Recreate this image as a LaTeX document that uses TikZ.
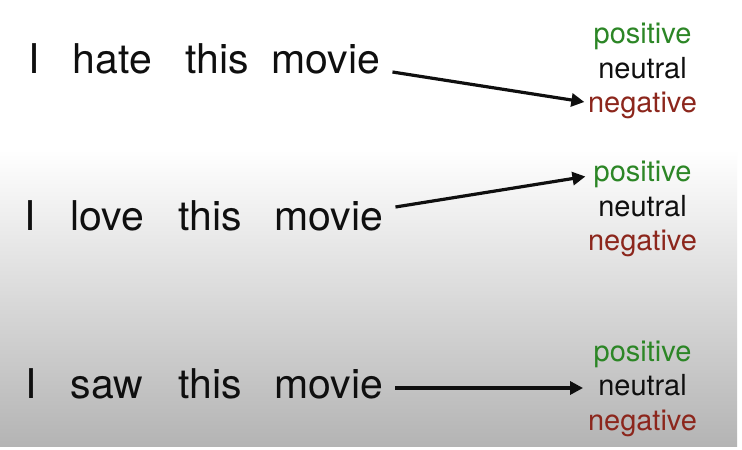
\documentclass[tikz,border=0pt]{standalone}
\usepackage{fontspec}
\setmainfont{TeX Gyre Heros}
\usetikzlibrary{arrows.meta}
\definecolor{posgreen}{RGB}{44,134,38}
\definecolor{negred}{RGB}{140,38,28}
\definecolor{bgbottom}{RGB}{180,180,180}
\definecolor{ink}{RGB}{15,15,15}
\tikzset{
  word/.style={anchor=base, inner sep=0pt, text=ink, font=\fontsize{41}{41}\selectfont},
  lab/.style={anchor=base, inner sep=0pt, font=\fontsize{29}{29}\selectfont},
  poslab/.style={lab, text=posgreen},
  neulab/.style={lab, text=ink},
  neglab/.style={lab, text=negred},
  arr/.style={draw=ink, line width=3.2pt, -{Triangle[length=13pt,width=13pt]}}
}
\begin{document}
\begin{tikzpicture}[x=1pt,y=-1pt]
\useasboundingbox (0,0) rectangle (742,450);
\fill[white] (0,0) rectangle (742,450);
\shade[top color=white, bottom color=bgbottom] (0,150) rectangle (737,446);

% row 1
\node[word] (i1) at (34,73) {I};
\node[word] (w1) at (112.5,73) {hate};
\node[word] (t1) at (217,73) {this};
\node[word] (m1) at (326,73) {movie};
\node[poslab] (p1) at (642.5,43.5) {positive};
\node[neulab] (u1) at (642.5,78) {neutral};
\node[neglab] (n1) at (642.5,112.5) {negative};

% row 2
\node[word] (i2) at (30,230) {I};
\node[word] (w2) at (107,230) {love};
\node[word] (t2) at (210,230) {this};
\node[word] (m2) at (329,230) {movie};
\node[poslab] (p2) at (642.5,181.5) {positive};
\node[neulab] (u2) at (642.5,216) {neutral};
\node[neglab] (n2) at (642.5,250.5) {negative};

% row 3
\node[word] (i3) at (31.5,398) {I};
\node[word] (w3) at (107,398) {saw};
\node[word] (t3) at (210,398) {this};
\node[word] (m3) at (329,398) {movie};
\node[poslab] (p3) at (642.5,361) {positive};
\node[neulab] (u3) at (642.5,395) {neutral};
\node[neglab] (n3) at (642.5,430) {negative};

% arrows
\draw[arr] ([xshift=12pt,yshift=1pt]m1.base east) -- ([xshift=-3.5pt,yshift=10.5pt]n1.base west);
\draw[arr] ([xshift=12pt,yshift=23pt]m2.base east) -- ([xshift=-8pt,yshift=5pt]p2.base west);
\draw[arr] ([xshift=12pt,yshift=10pt]m3.base east) -- ([xshift=-15pt,yshift=7pt]u3.base west);
\end{tikzpicture}
\end{document}
